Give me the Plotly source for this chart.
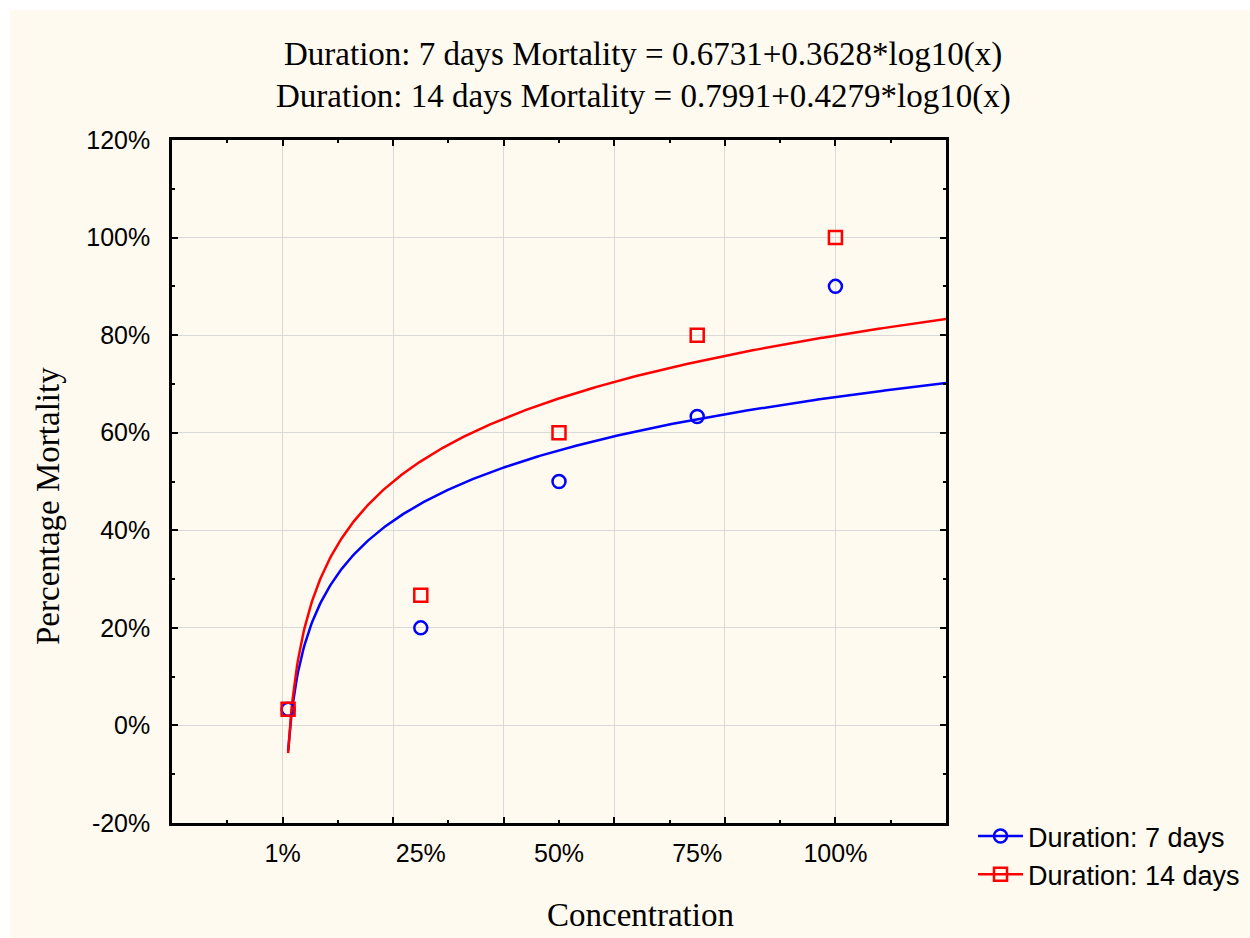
import numpy as np
import plotly.graph_objects as go

# ---- data ----
concentration = [0.01, 0.25, 0.50, 0.75, 1.00]
conc_labels = ["1%", "25%", "50%", "75%", "100%"]
conc_label_pos = [0.0, 0.25, 0.50, 0.75, 1.00]
mort_7 = [0.0333, 0.20, 0.50, 0.6333, 0.90]
mort_14 = [0.0333, 0.2667, 0.60, 0.80, 1.00]
fit_7 = (0.6731, 0.3628)
fit_14 = (0.7991, 0.4279)
y_ticks = [-0.2, 0.0, 0.2, 0.4, 0.6, 0.8, 1.0, 1.2]
y_labels = ["-20%", "0%", "20%", "40%", "60%", "80%", "100%", "120%"]

xs = np.linspace(0.01, 1.2, 600)
curve_7 = fit_7[0] + fit_7[1] * np.log10(xs)
curve_14 = fit_14[0] + fit_14[1] * np.log10(xs)

BLUE = "#0000FF"
RED = "#FF0000"
CREAM = "#FEFAEF"

fig = go.Figure()
fig.add_trace(go.Scatter(x=xs, y=curve_7, mode="lines", line=dict(color=BLUE, width=2.5),
                         showlegend=False, hoverinfo="skip"))
fig.add_trace(go.Scatter(x=xs, y=curve_14, mode="lines", line=dict(color=RED, width=2.5),
                         showlegend=False, hoverinfo="skip"))
fig.add_trace(go.Scatter(x=concentration, y=mort_7, mode="markers",
                         marker=dict(symbol="circle-open", size=13, color=BLUE, line=dict(width=2.5)),
                         showlegend=False))
fig.add_trace(go.Scatter(x=concentration, y=mort_14, mode="markers",
                         marker=dict(symbol="square-open", size=13, color=RED, line=dict(width=2.5)),
                         showlegend=False))
# legend entries
fig.add_trace(go.Scatter(x=[None], y=[None], mode="lines+markers", name="Duration: 7 days",
                         line=dict(color=BLUE, width=2.5),
                         marker=dict(symbol="circle-open", size=13, color=BLUE, line=dict(width=2.5))))
fig.add_trace(go.Scatter(x=[None], y=[None], mode="lines+markers", name="Duration: 14 days",
                         line=dict(color=RED, width=2.5),
                         marker=dict(symbol="square-open", size=13, color=RED, line=dict(width=2.5))))
# helper trace for label axis
fig.add_trace(go.Scatter(x=[None], y=[None], xaxis="x2", yaxis="y", showlegend=False, hoverinfo="skip"))

L, R, T, B = 172, 304, 140, 115
W, H = 1250, 938
pw, ph = W - L - R, H - T - B

def px_x(p):
    return (p - L) / pw

def px_y(p):
    return (H - B - p) / ph

SERIF = "Liberation Serif, Times New Roman"
SANS = "Liberation Sans, Arial"

fig.update_layout(
    width=W, height=H,
    margin=dict(l=L, r=R, t=T, b=B, pad=0, autoexpand=False),
    paper_bgcolor="white",
    plot_bgcolor="rgba(0,0,0,0)",
    font=dict(family=SANS, color="black"),
    xaxis=dict(range=[-0.2, 1.2], tickmode="array", tickvals=[0, 0.2, 0.4, 0.6, 0.8, 1.0],
               showticklabels=False, ticks="inside", ticklen=6, tickwidth=2, tickcolor="black",
               showgrid=True, gridcolor="#D9D9D9", gridwidth=1, zeroline=False,
               showline=True, linecolor="black", linewidth=2.5, mirror="ticks",
               minor=dict(tickmode="linear", tick0=0, dtick=0.1, ticks="inside", ticklen=3,
                          tickwidth=2, tickcolor="black", showgrid=False),
               automargin=False),
    xaxis2=dict(range=[-0.2, 1.2], overlaying="x", anchor="y", side="bottom", matches="x",
                tickmode="array", tickvals=conc_label_pos, ticktext=conc_labels,
                ticks="", showgrid=False, showline=False, zeroline=False,
                tickfont=dict(size=25, family=SANS), ticklabelstandoff=13,
                automargin=False),
    yaxis=dict(range=[-0.2, 1.2], tickmode="array", tickvals=y_ticks, ticktext=y_labels,
               ticks="inside", ticklen=6, tickwidth=2, tickcolor="black",
               tickfont=dict(size=25, family=SANS), ticklabelstandoff=14,
               showgrid=True, gridcolor="#D9D9D9", gridwidth=1, zeroline=False,
               showline=True, linecolor="black", linewidth=2.5, mirror="ticks",
               minor=dict(tickmode="linear", tick0=0, dtick=0.1, ticks="inside", ticklen=3,
                          tickwidth=2, tickcolor="black", showgrid=False),
               automargin=False),
    legend=dict(x=px_x(973), y=px_y(812), xanchor="left", yanchor="top",
                font=dict(size=27, family=SANS),
                bgcolor="rgba(0,0,0,0)", itemwidth=45, tracegroupgap=0),
    shapes=[dict(type="rect", xref="paper", yref="paper", layer="below",
                 x0=px_x(10), x1=px_x(W + 5), y0=px_y(H + 5), y1=px_y(10),
                 fillcolor=CREAM, line=dict(width=0))],
    annotations=[
        dict(text="Duration: 7 days Mortality = 0.6731+0.3628*log10(x)", xref="paper", yref="paper",
             x=px_x(643), y=px_y(55), showarrow=False, xanchor="center", yanchor="middle",
             font=dict(family=SERIF, size=33)),
        dict(text="Duration: 14 days Mortality = 0.7991+0.4279*log10(x)", xref="paper", yref="paper",
             x=px_x(643), y=px_y(96), showarrow=False, xanchor="center", yanchor="middle",
             font=dict(family=SERIF, size=33)),
        dict(text="Concentration", xref="paper", yref="paper",
             x=px_x(640), y=px_y(915), showarrow=False, xanchor="center", yanchor="middle",
             font=dict(family=SERIF, size=33)),
        dict(text="Percentage Mortality", xref="paper", yref="paper", textangle=-90,
             x=px_x(48), y=px_y(506), showarrow=False, xanchor="center", yanchor="middle",
             font=dict(family=SERIF, size=33)),
    ],
)

fig.write_html("out.html")
